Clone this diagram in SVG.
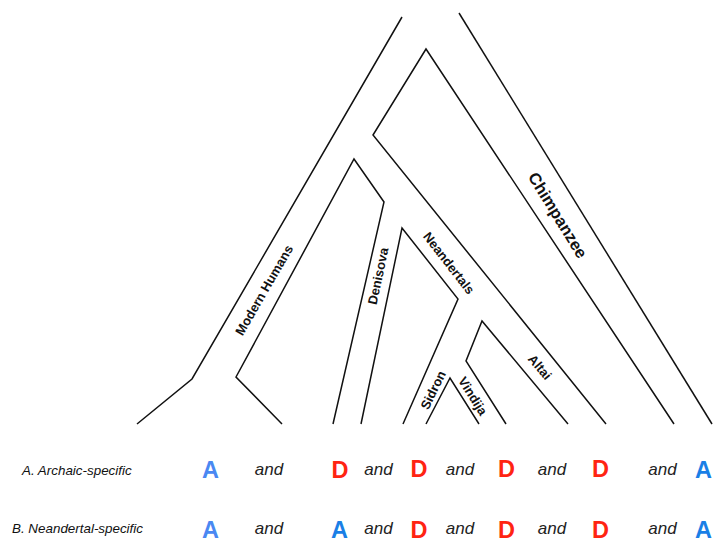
<svg xmlns="http://www.w3.org/2000/svg" width="713" height="543" viewBox="0 0 713 543">
<style>
.br{fill:none;stroke:#111;stroke-width:1.5;stroke-linejoin:miter}
.lb{font-family:"Liberation Sans",Arial,sans-serif;font-weight:bold;font-size:13px;fill:#111;text-anchor:middle}
.ch{font-size:16.5px}
.row{font-family:"Liberation Sans",Arial,sans-serif;font-style:italic;font-size:13.4px;fill:#111}
.and{font-family:"Liberation Sans",Arial,sans-serif;font-style:italic;font-size:17px;fill:#222;text-anchor:middle}
.big{font-family:"Liberation Sans",Arial,sans-serif;font-weight:bold;font-size:23.5px;text-anchor:middle}
.a1{fill:#4a88f2}
.a2{fill:#1a7fe6}
.d{fill:#ff2412}
</style>
<rect width="713" height="543" fill="#fff"/>
<g id="connectors">
<path class="br" d="M137,424 L192,379 L402,17"/>
<path class="br" d="M282,424 L236,377 L354,159 L384,202 L333,424"/>
<path class="br" d="M361,424 L402,228 L458,299 L403,424"/>
<path class="br" d="M426,424 L450,378 L479,424"/>
<path class="br" d="M506,424 L466,361 L482,321 L568,424"/>
<path class="br" d="M606,424 L373,135 L426,49 L674,424"/>
<path class="br" d="M459,13 L712,424"/>
</g>
<g id="modern-humans"><text class="lb" transform="translate(264,290) rotate(-60)" dy="0.36em">Modern Humans</text></g>
<g id="denisova"><text class="lb" transform="translate(378,276) rotate(-78)" dy="0.36em">Denisova</text></g>
<g id="neandertals"><text class="lb" transform="translate(449,263) rotate(52)" dy="0.36em">Neandertals</text></g>
<g id="chimpanzee"><text class="lb ch" transform="translate(558,215) rotate(58.4)" dy="0.36em">Chimpanzee</text></g>
<g id="altai"><text class="lb" transform="translate(540,367) rotate(50)" dy="0.36em">Altai</text></g>
<g id="sidron"><text class="lb" transform="translate(433,390) rotate(-64)" dy="0.36em">Sidron</text></g>
<g id="vindija"><text class="lb" transform="translate(473,396) rotate(58)" dy="0.36em">Vindija</text></g>
<g id="row-a">
<text class="row" x="22" y="475">A. Archaic-specific</text>
<text class="big a1" x="210.5" y="478">A</text>
<text class="and" x="269" y="475">and</text>
<text class="big d" x="340" y="478">D</text>
<text class="and" x="378.5" y="475">and</text>
<text class="big d" x="419" y="477">D</text>
<text class="and" x="460" y="475">and</text>
<text class="big d" x="506.5" y="477">D</text>
<text class="and" x="552" y="475">and</text>
<text class="big d" x="600.5" y="477">D</text>
<text class="and" x="662.5" y="475">and</text>
<text class="big a2" x="703.5" y="478">A</text>
</g>
<g id="row-b">
<text class="row" x="12" y="533">B. Neandertal-specific</text>
<text class="big a1" x="210.5" y="538">A</text>
<text class="and" x="269" y="534">and</text>
<text class="big a2" x="339.5" y="538">A</text>
<text class="and" x="378.5" y="534">and</text>
<text class="big d" x="419" y="538">D</text>
<text class="and" x="460" y="534">and</text>
<text class="big d" x="506.5" y="538">D</text>
<text class="and" x="552" y="534">and</text>
<text class="big d" x="600.5" y="538">D</text>
<text class="and" x="662.5" y="534">and</text>
<text class="big a2" x="703.5" y="538">A</text>
</g>
</svg>
